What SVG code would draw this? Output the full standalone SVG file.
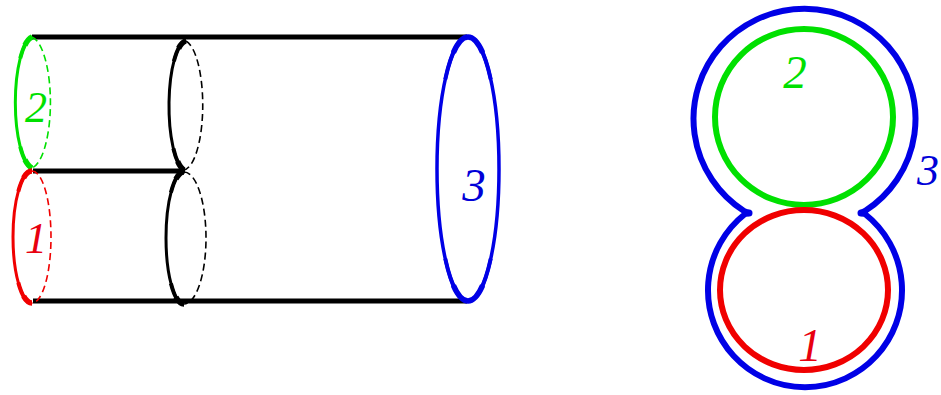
<svg xmlns="http://www.w3.org/2000/svg" width="941" height="395" viewBox="0 0 941 395">
<style>
.l{font-family:"Liberation Serif","Times New Roman",serif;font-style:italic;text-anchor:middle}
.s{font-size:44px}
.m{font-size:47px}
.f{fill:none}
.d{fill:none;stroke-width:1.6;stroke-dasharray:7 4}
.g{stroke:#00e000}.r{stroke:#f00000}.b{stroke:#0000e6}.k{stroke:#000}
.gt{fill:#00e000}.rt{fill:#e8000f}.bt{fill:#0000d8}
.w{stroke-width:3}
.t1{stroke-width:4;stroke-dasharray:18 64 18}
.t2{stroke-width:5.500;stroke-dasharray:8 84 8}
</style>
<rect width="941" height="395" fill="#fff"/>
<g id="connectors" fill="none" stroke="#000" stroke-width="5">
<path d="M32 37H467"/>
<path d="M33 171H185"/>
<path d="M33 301H467"/>
</g>
<g id="cylinder-end-2">
<path class="f g w" d="M32 37A19 66 0 0 0 32 168"/>
<path class="f g t1" pathLength="100" d="M32 37A19 66 0 0 0 32 168"/>
<path class="f g t2" pathLength="100" d="M32 37A19 66 0 0 0 32 168"/>
<path class="d g" d="M32 37A21 66 0 0 1 32 168"/>
<text class="l s gt" x="36" y="122">2</text>
</g>
<g id="cylinder-end-1">
<path class="f r w" d="M32 171A19 66 0 0 0 32 303"/>
<path class="f r t1" pathLength="100" d="M32 171A19 66 0 0 0 32 303"/>
<path class="f r t2" pathLength="100" d="M32 171A19 66 0 0 0 32 303"/>
<path class="d r" d="M32 171A19 66 0 0 1 32 303"/>
<text class="l s rt" x="36" y="253">1</text>
</g>
<g id="waist-upper">
<path class="f k w" d="M186 41A18 65 0 0 0 184 170"/>
<path class="f k t1" pathLength="100" d="M186 41A18 65 0 0 0 184 170"/>
<path class="f k t2" pathLength="100" d="M186 41A18 65 0 0 0 184 170"/>
<path class="d k" d="M186 41A20 65 0 0 1 184 170"/>
</g>
<g id="waist-lower">
<path class="f k w" d="M184 172A18 66 0 0 0 184 304"/>
<path class="f k t1" pathLength="100" d="M184 172A18 66 0 0 0 184 304"/>
<path class="f k t2" pathLength="100" d="M184 172A18 66 0 0 0 184 304"/>
<path class="d k" d="M184 172A22 66 0 0 1 184 304"/>
</g>
<g id="cylinder-end-3">
<ellipse class="f b" stroke-width="3.500" cx="468" cy="169" rx="31" ry="132"/>
<path class="f b t1" pathLength="100" d="M468 37A31 132 0 0 1 468 301"/>
<path class="f b t1" pathLength="100" d="M468 37A31 132 0 0 0 468 301"/>
<path class="f b t2" pathLength="100" d="M468 37A31 132 0 0 1 468 301"/>
<path class="f b t2" pathLength="100" d="M468 37A31 132 0 0 0 468 301"/>
<text class="l m bt" x="474" y="201">3</text>
</g>
<g id="circle-2">
<ellipse class="f g" stroke-width="6" cx="804" cy="117" rx="89" ry="88"/>
<text class="l m gt" x="795" y="88">2</text>
</g>
<g id="circle-1">
<ellipse class="f r" stroke-width="6" cx="804" cy="290" rx="84" ry="80"/>
<text class="l m rt" x="810" y="361">1</text>
</g>
<g id="outline-3">
<path class="f b" stroke-width="6" d="M749 213L744 211A111 110 0 1 1 865 211L861 213M861 213L865 214A97 97 0 1 1 745 214L749 213"/>
<circle cx="749" cy="213" r="3.500" fill="#0000e6"/>
<circle cx="861" cy="213" r="3.500" fill="#0000e6"/>
<text class="l s bt" x="928" y="185">3</text>
</g>
</svg>
